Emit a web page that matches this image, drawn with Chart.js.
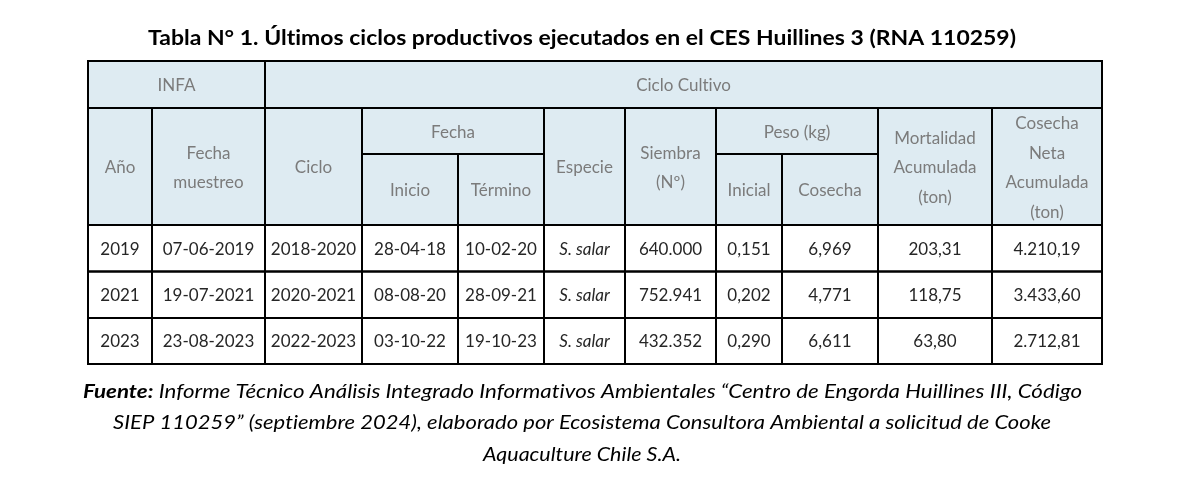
<!DOCTYPE html>
<html>
<head>
<meta charset="utf-8">
<script src="https://cdn.jsdelivr.net/npm/chart.js@4.4.1/dist/chart.umd.min.js"></script>
<style>
  html, body { margin: 0; padding: 0; background: #fff; overflow: hidden; }
</style>
</head>
<body>
<canvas id="tableChart" width="1188" height="495"></canvas>
<script>
// Table content
const title = 'Tabla N° 1. Últimos ciclos productivos ejecutados en el CES Huillines 3 (RNA 110259)';
const years = ['2019', '2021', '2023'];
const sampleDates = ['07-06-2019', '19-07-2021', '23-08-2023'];
const cycles = ['2018-2020', '2020-2021', '2022-2023'];
const startDates = ['28-04-18', '08-08-20', '03-10-22'];
const endDates = ['10-02-20', '28-09-21', '19-10-23'];
const species = ['S. salar', 'S. salar', 'S. salar'];
const stocking = [640000, 752941, 432352];
const weightInitial = [0.151, 0.202, 0.290];
const weightHarvest = [6.969, 4.771, 6.611];
const mortality = [203.31, 118.75, 63.80];
const netHarvest = [4210.19, 3433.60, 2712.81];

const sourceBold = 'Fuente:';
const sourceLines = [
    ' Informe Técnico Análisis Integrado Informativos Ambientales “Centro de Engorda Huillines III, Código',
    'SIEP 110259” (septiembre 2024), elaborado por Ecosistema Consultora Ambiental a solicitud de Cooke',
    'Aquaculture Chile S.A.'
];

// Header cells: [firstCol, lastCol+1, firstRow, lastRow+1, lines]
const headerCells = [
    [0, 2, 0, 1, ['INFA']],
    [2, 11, 0, 1, ['Ciclo Cultivo']],
    [0, 1, 1, 3, ['Año']],
    [1, 2, 1, 3, ['Fecha', 'muestreo']],
    [2, 3, 1, 3, ['Ciclo']],
    [3, 5, 1, 2, ['Fecha']],
    [3, 4, 2, 3, ['Inicio']],
    [4, 5, 2, 3, ['Término']],
    [5, 6, 1, 3, ['Especie']],
    [6, 7, 1, 3, ['Siembra', '(Nº)']],
    [7, 9, 1, 2, ['Peso (kg)']],
    [7, 8, 2, 3, ['Inicial']],
    [8, 9, 2, 3, ['Cosecha']],
    [9, 10, 1, 3, ['Mortalidad', 'Acumulada', '(ton)']],
    [10, 11, 1, 3, ['Cosecha', 'Neta', 'Acumulada', '(ton)']]
];

// Layout (page units = pixels of the reference)
const colEdges = [88, 152, 265, 362, 458, 544, 625, 716, 782, 878, 992, 1102];
const rowEdges = [61, 108, 154, 225, 271.5, 318, 364];
const headerBg = '#deebf2';
const headerColor = '#7b7b7b';
const bodyColor = '#262626';
const FONT = 'Lato, "Open Sans", sans-serif';

function fmt(v, dec) {
    const parts = v.toFixed(dec).split('.');
    const intPart = parts[0].replace(/\B(?=(\d{3})+(?!\d))/g, '.');
    return parts[1] ? intPart + ',' + parts[1] : intPart;
}

const bodyRows = years.map((y, i) => [
    y, sampleDates[i], cycles[i], startDates[i], endDates[i], species[i],
    fmt(stocking[i], 0), fmt(weightInitial[i], 3), fmt(weightHarvest[i], 3),
    fmt(mortality[i], 2), fmt(netHarvest[i], 2)
]);

// draw text segments [font, text] on one line, squeezed to a given width
function fitLine(ctx, segs, cx, y, width) {
    let total = 0;
    segs.forEach(([f, t]) => { ctx.font = f; total += ctx.measureText(t).width; });
    const s = width / total;
    ctx.save();
    ctx.translate(cx - width / 2, y);
    ctx.scale(s, 1);
    ctx.textAlign = 'left';
    let x = 0;
    segs.forEach(([f, t]) => { ctx.font = f; ctx.fillText(t, x, 0); x += ctx.measureText(t).width; });
    ctx.restore();
}

const tablePlugin = {
    id: 'tablePlugin',
    afterDraw(chart) {
        const ctx = chart.ctx;
        const X = v => chart.scales.x.getPixelForValue(v);
        const Y = v => chart.scales.y.getPixelForValue(v);
        ctx.save();
        ctx.letterSpacing = '0.01px';
        ctx.textAlign = 'center';
        ctx.textBaseline = 'middle';

        // title
        ctx.fillStyle = '#000';
        fitLine(ctx, [['bold 21px ' + FONT, title]], X(582), Y(38), X(1016) - X(148));

        // header background
        ctx.fillStyle = headerBg;
        ctx.fillRect(X(colEdges[0]), Y(rowEdges[0]), X(colEdges[11]) - X(colEdges[0]), Y(rowEdges[3]) - Y(rowEdges[0]));

        // header text
        const lh = 29.5;
        ctx.fillStyle = headerColor;
        ctx.font = '17px ' + FONT;
        headerCells.forEach(([c0, c1, r0, r1, lines]) => {
            const cx = (colEdges[c0] + colEdges[c1]) / 2;
            const cy = (rowEdges[r0] + rowEdges[r1]) / 2 + 1.5;
            lines.forEach((t, k) => {
                ctx.fillText(t, X(cx), Y(cy + (k - (lines.length - 1) / 2) * lh));
            });
        });

        // body text
        ctx.fillStyle = bodyColor;
        bodyRows.forEach((row, r) => {
            const cy = (rowEdges[3 + r] + rowEdges[4 + r]) / 2 + 1;
            row.forEach((t, c) => {
                ctx.font = (c === 5 ? 'italic ' : '') + '17px ' + FONT;
                ctx.fillText(t, X((colEdges[c] + colEdges[c + 1]) / 2), Y(cy));
            });
        });

        // grid lines
        ctx.strokeStyle = '#000';
        ctx.lineWidth = 2;
        const rect = (c0, c1, r0, r1) => ctx.strokeRect(X(colEdges[c0]), Y(rowEdges[r0]),
            X(colEdges[c1]) - X(colEdges[c0]), Y(rowEdges[r1]) - Y(rowEdges[r0]));
        headerCells.forEach(([c0, c1, r0, r1]) => rect(c0, c1, r0, r1));
        bodyRows.forEach((row, r) => row.forEach((t, c) => rect(c, c + 1, 3 + r, 4 + r)));

        // source note
        ctx.fillStyle = '#000';
        const fb = 'bold italic 19px ' + FONT;
        const fi = 'italic 19px ' + FONT;
        fitLine(ctx, [[fb, sourceBold], [fi, sourceLines[0]]], X(582.5), Y(392), X(1082) - X(83));
        fitLine(ctx, [[fi, sourceLines[1]]], X(582), Y(423), X(1051) - X(113));
        fitLine(ctx, [[fi, sourceLines[2]]], X(582), Y(455), X(681) - X(483));
        ctx.restore();
    }
};

new Chart(document.getElementById('tableChart').getContext('2d'), {
    type: 'scatter',
    data: { datasets: [{ data: [] }] },
    options: {
        responsive: false,
        animation: false,
        layout: { padding: 0 },
        plugins: { legend: { display: false }, tooltip: { enabled: false } },
        scales: {
            x: { type: 'linear', min: 0, max: 1188, display: false },
            y: { type: 'linear', min: 0, max: 495, reverse: true, display: false }
        }
    },
    plugins: [tablePlugin]
});
</script>
</body>
</html>
